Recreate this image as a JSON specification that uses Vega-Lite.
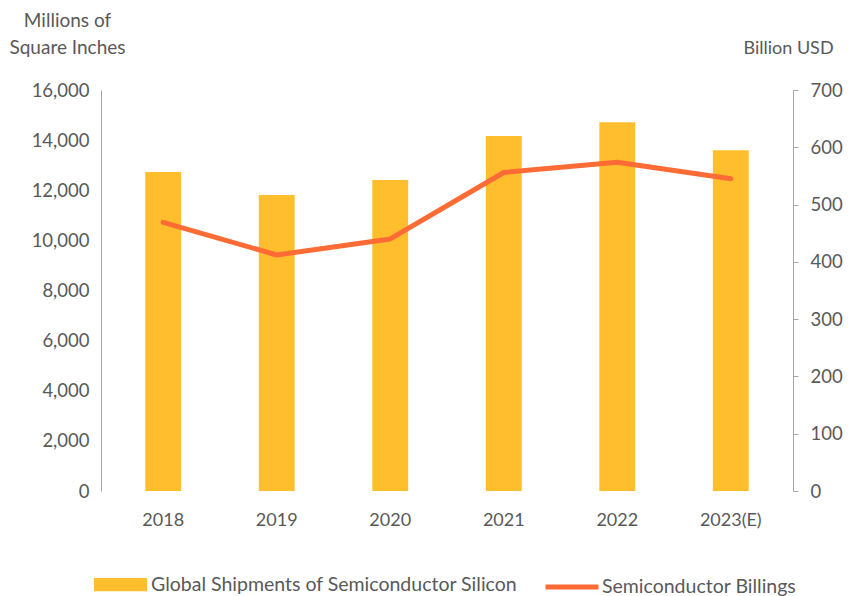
{
  "$schema": "https://vega.github.io/schema/vega-lite/v6.json",
  "autosize": "none",
  "width": 692,
  "height": 401,
  "padding": {"left": 101, "top": 90, "right": 68, "bottom": 105},
  "background": "white",
  "config": {
    "view": {"stroke": null},
    "font": "Lato",
    "axis": {"labelFont": "Lato", "titleFont": "Lato", "labelColor": "#595959", "titleColor": "#595959", "labelFontSize": 18.5, "titleFontSize": 19, "titleFontWeight": "normal", "domainColor": "#A6A6A6", "tickColor": "#A6A6A6", "grid": false},
    "legend": {"labelFont": "Lato", "labelFontSize": 19.5, "labelColor": "#595959", "labelLimit": 0}
  },
  "data": {
    "values": [
      {"year": "2018", "silicon": 12732, "billings": 469},
      {"year": "2019", "silicon": 11810, "billings": 412},
      {"year": "2020", "silicon": 12407, "billings": 440},
      {"year": "2021", "silicon": 14165, "billings": 556},
      {"year": "2022", "silicon": 14713, "billings": 574},
      {"year": "2023(E)", "silicon": 13600, "billings": 545}
    ]
  },
  "encoding": {
    "x": {
      "field": "year", "type": "nominal", "sort": null,
      "scale": {"paddingInner": 0.684, "paddingOuter": 0.39},
      "axis": {"title": null, "labelAngle": 0, "domain": false, "ticks": false, "labelPadding": 20, "labelFontSize": 18}
    }
  },
  "layer": [
    {
      "mark": {"type": "bar"},
      "encoding": {
        "y": {
          "field": "silicon", "type": "quantitative",
          "scale": {"domain": [0, 16000]},
          "axis": {
            "values": [0, 2000, 4000, 6000, 8000, 10000, 12000, 14000, 16000],
            "format": ",d", "ticks": false, "tickSize": 0, "labelPadding": 12,
            "title": ["Millions of", "Square Inches"], "titleAngle": 0, "titleAlign": "center",
            "titleBaseline": "alphabetic", "titleX": -34, "titleY": -64, "titleLineHeight": 27
          }
        },
        "fill": {
          "datum": "Global Shipments of Semiconductor Silicon",
          "scale": {"range": ["#FFBE2D"]},
          "legend": {
            "title": null, "orient": "none", "legendX": -7, "legendY": 468, "labelLimit": 0,
            "symbolType": "M-1,-0.25H1V0.25H-1Z", "symbolSize": 2809, "symbolStrokeWidth": 0, "labelOffset": 4
          }
        }
      }
    },
    {
      "mark": {"type": "line", "strokeWidth": 5, "strokeCap": "round", "strokeJoin": "round"},
      "encoding": {
        "y": {
          "field": "billings", "type": "quantitative",
          "scale": {"domain": [0, 700]},
          "axis": {
            "orient": "right",
            "values": [0, 100, 200, 300, 400, 500, 600, 700],
            "tickSize": 5, "labelPadding": 12,
            "title": "Billion USD", "titleAngle": 0, "titleAlign": "center", "titleFontSize": 18,
            "titleBaseline": "alphabetic", "titleX": -5, "titleY": -37
          }
        },
        "stroke": {
          "datum": "Semiconductor Billings",
          "scale": {"range": ["#FF6B35"]},
          "legend": {
            "title": null, "orient": "none", "legendX": 442, "legendY": 468, "labelLimit": 0,
            "symbolType": "stroke", "symbolSize": 2809, "symbolStrokeWidth": 5, "labelOffset": 1
          }
        }
      }
    }
  ],
  "resolve": {"scale": {"y": "independent"}}
}
